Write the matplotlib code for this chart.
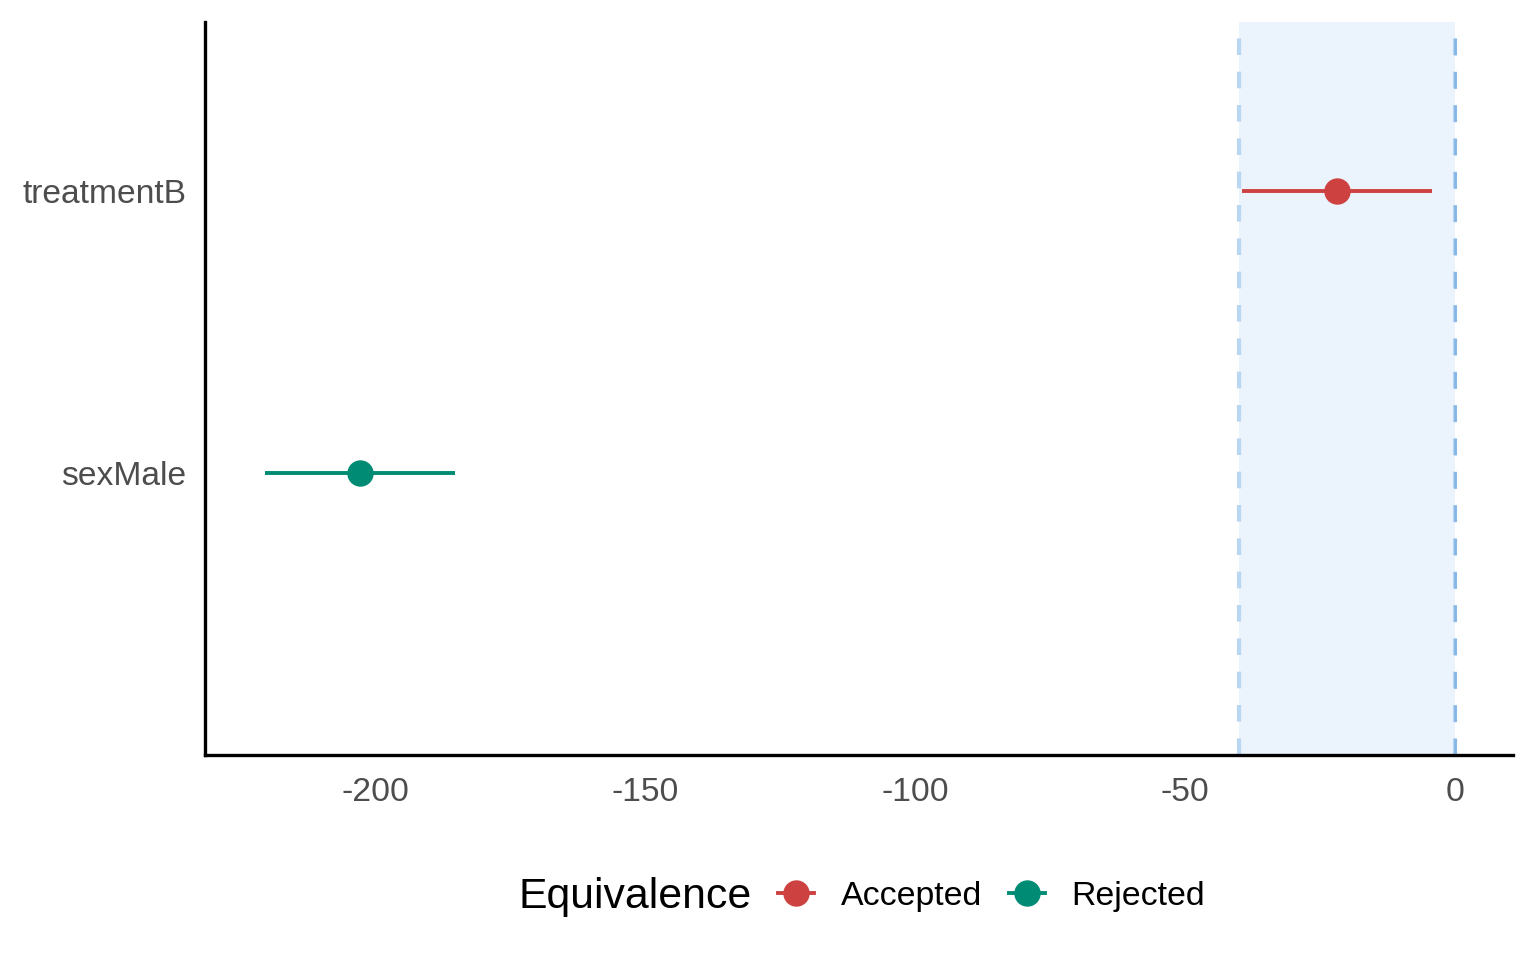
import matplotlib
matplotlib.use('Agg')
import matplotlib.pyplot as plt
from matplotlib.lines import Line2D

plt.rcParams['font.family'] = ['Liberation Sans', 'DejaVu Sans']

# data
terms = ['sexMale', 'treatmentB']
estimate = [-202.8, -21.9]
ci_low = [-220.4, -39.4]
ci_high = [-185.2, -4.3]
equivalence = ['Rejected', 'Accepted']
rope = [-40, 0]

colors = {'Accepted': '#CD4240', 'Rejected': '#008C74'}

fig = plt.figure(figsize=(7.68, 4.8), dpi=200)
ax = fig.add_axes([0.1335, 0.2135, 0.8515, 0.7635])

ax.axvspan(rope[0], rope[1], color='#EBF3FC', zorder=0, lw=0)
for r in rope:
    ax.axvline(r, color='#B9D7F2', lw=1.5, ls=(0, (4, 4)), zorder=1)
ax.axvline(0, color='#85B6E6', lw=1.0, ls=(0, (6, 6)), zorder=1)

for i, t in enumerate(terms):
    c = colors[equivalence[i]]
    ax.plot([ci_low[i], ci_high[i]], [i + 1, i + 1], color=c, lw=1.4, zorder=2, solid_capstyle='butt')
    ax.plot(estimate[i], i + 1, 'o', color=c, markersize=8.5, zorder=3)

ax.set_xlim(-231.5, 10.7)
ax.set_ylim(0, 2.6)
ax.set_yticks([1, 2])
ax.set_yticklabels(terms)
ax.set_xticks([-200, -150, -100, -50, 0])
ax.set_xticklabels(['-200', '-150', '-100', '-50', '0'])
ax.tick_params(length=0, labelsize=12.1, colors='#4D4D4D')
ax.tick_params(axis='x', pad=8)
ax.tick_params(axis='y', pad=6.7)

for s in ['top', 'right']:
    ax.spines[s].set_visible(False)
for s in ['left', 'bottom']:
    ax.spines[s].set_linewidth(1.2)
    ax.spines[s].set_color('black')

# legend: title to the left of the keys
fig.text(518 / 1536, 0.066, 'Equivalence', fontsize=15.4, ha='left', va='center')
handles = [Line2D([0], [0], color=colors[k], lw=1.4, marker='o', markersize=8.5) for k in ['Accepted', 'Rejected']]
fig.legend(handles, ['Accepted', 'Rejected'], loc='center left',
           bbox_to_anchor=(778 / 1536, 0.066), ncol=2, frameon=False, fontsize=12.2,
           handlelength=1.05, handletextpad=0.8, columnspacing=0.8, borderpad=0, borderaxespad=0)

fig.savefig('out.png', dpi=200)
